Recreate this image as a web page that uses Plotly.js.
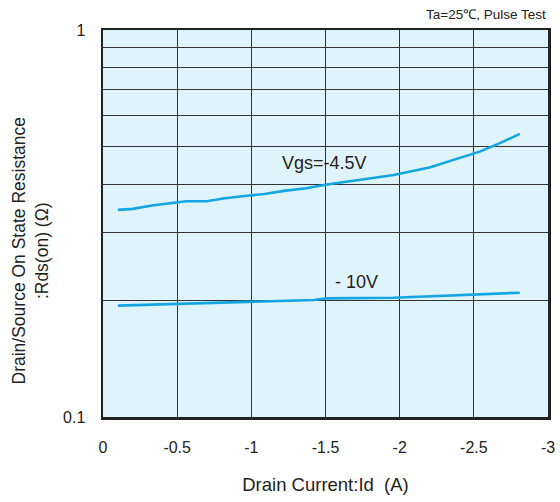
<!DOCTYPE html>
<html>
<head>
<meta charset="utf-8">
<script src="https://cdn.plot.ly/plotly-3.0.1.min.js"></script>
<style>html,body{margin:0;padding:0;background:#fff;}#chart{width:560px;height:502px;}</style>
</head>
<body>
<div id="chart"></div>
<script>
var id45 = [-0.1,-0.2,-0.33,-0.45,-0.56,-0.7,-0.81,-0.97,-1.09,-1.22,-1.37,-1.51,-1.69,-1.8,-1.96,-2.2,-2.41,-2.54,-2.68,-2.81];
var r45  = [0.343,0.345,0.352,0.357,0.361,0.361,0.367,0.373,0.377,0.384,0.390,0.399,0.408,0.412,0.422,0.441,0.469,0.485,0.511,0.539];
var id10 = [-0.1,-0.99,-1.42,-1.51,-1.96,-2.81];
var r10  = [0.194,0.1986,0.2006,0.2026,0.2033,0.2095];
var xTicks = [0,-0.5,-1,-1.5,-2,-2.5,-3];
var xTickText = ["0","-0.5","-1","-1.5","-2","-2.5","-3"];
var yTicks = [0.1,0.2,0.3,0.4,0.5,0.6,0.7,0.8,0.9,1];
var yTickText = ["0.1","","","","","","","","","1"];

var lineColor = "#14a5e3";
var traces = [
  {x:id45, y:r45, mode:"lines", line:{color:lineColor, width:2.6}, hoverinfo:"skip"},
  {x:id10, y:r10, mode:"lines", line:{color:lineColor, width:2.6}, hoverinfo:"skip"}
];
var font = "Liberation Sans, Arial, sans-serif";
var layout = {
  width:560, height:502,
  margin:{l:103, r:12, t:30, b:85},
  paper_bgcolor:"#ffffff",
  plot_bgcolor:"#dff3fa",
  showlegend:false,
  font:{family:font, color:"#222", size:16},
  xaxis:{
    range:[0,-3], tickvals:xTicks, ticktext:xTickText,
    showgrid:true, gridcolor:"#333", gridwidth:1, zeroline:false,
    showline:true, linecolor:"#222", linewidth:2.5, mirror:true,
    ticks:"", ticklabelstandoff:14, tickfont:{size:16, family:font, color:"#222"},
    title:{text:"Drain Current:Id&nbsp;&nbsp;(A)", font:{size:18.5, family:font, color:"#222"}, standoff:24}
  },
  yaxis:{
    type:"log", range:[-1,0], tickvals:yTicks, ticktext:yTickText,
    showgrid:true, gridcolor:"#333", gridwidth:1, zeroline:false,
    showline:true, linecolor:"#222", linewidth:2.5, mirror:true,
    ticks:"", ticklabelstandoff:12, tickfont:{size:16, family:font, color:"#222"}
  },
  annotations:[
    {text:"Ta=25℃, Pulse Test", xref:"paper", yref:"paper", x:1, y:1, xanchor:"right", yanchor:"bottom", yshift:6, showarrow:false, font:{size:13.5, family:font, color:"#222"}},
    {text:"Vgs=-4.5V", x:-1.49, y:Math.log10(0.453), xanchor:"center", yanchor:"middle", showarrow:false, font:{size:18, family:font, color:"#222"}},
    {text:"- 10V", x:-1.706, y:Math.log10(0.2233), xanchor:"center", yanchor:"middle", showarrow:false, font:{size:18, family:font, color:"#222"}},
    {text:"Drain/Source On State Resistance<br>:Rds(on) (Ω)", xref:"paper", yref:"paper", x:-0.162, y:0.43, xanchor:"center", yanchor:"middle", textangle:-90, showarrow:false, font:{size:17.5, family:font, color:"#222"}}
  ]
};
Plotly.newPlot("chart", traces, layout, {staticPlot:true, displayModeBar:false});
</script>
</body>
</html>
